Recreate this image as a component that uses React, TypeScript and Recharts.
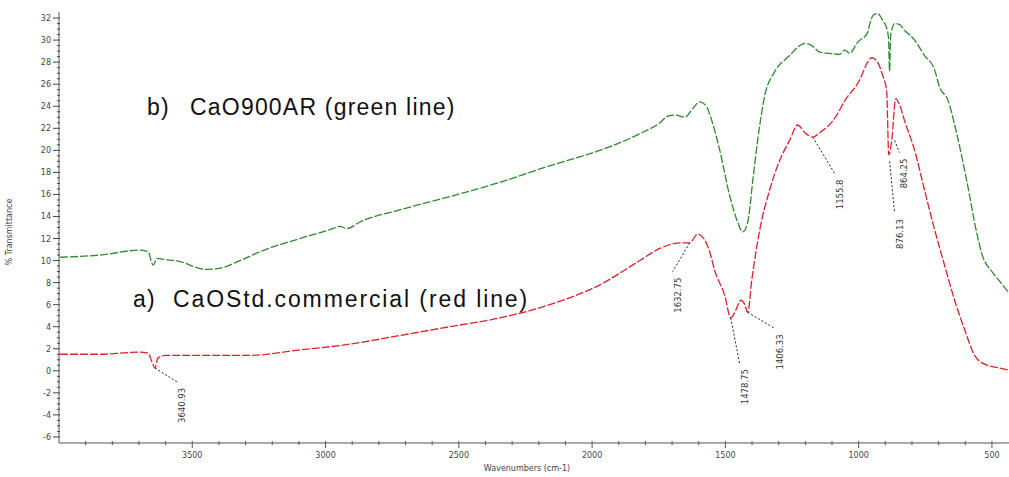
import React from "react";
import {
  LineChart,
  Line,
  XAxis,
  YAxis,
  ReferenceLine,
  ReferenceDot,
} from "recharts";

// wavenumber (cm-1) / % transmittance
const greenWn = [3996, 3846, 3696, 3666, 3647, 3632, 3602, 3546, 3452, 3396, 3321, 3246, 3096, 2984, 2946, 2920, 2871, 2721, 2534, 2346, 2159, 1971, 1821, 1746, 1716, 1690, 1652, 1622, 1596, 1574, 1551, 1521, 1484, 1454, 1435, 1416, 1397, 1379, 1352, 1316, 1259, 1221, 1202, 1176, 1146, 1109, 1071, 1052, 1034, 1004, 966, 959, 944, 929, 910, 895, 888, 884, 880, 865, 846, 828, 790, 753, 715, 696, 666, 632, 595, 557, 539, 497, 467, 437];
const greenT = [10.3, 10.5, 10.95, 10.8, 9.6, 10.2, 10.1, 9.9, 9.2, 9.3, 10.0, 10.8, 12.0, 12.8, 13.1, 12.9, 13.5, 14.6, 15.8, 17.1, 18.6, 20.0, 21.5, 22.5, 23.1, 23.2, 23.0, 23.8, 24.4, 24.1, 22.7, 20.0, 15.9, 13.5, 12.6, 13.5, 17.3, 20.9, 25.0, 27.1, 28.6, 29.5, 29.7, 29.5, 28.9, 28.8, 28.7, 29.1, 28.8, 29.8, 30.7, 31.4, 32.3, 32.4, 31.8, 31.1, 30.2, 27.2, 30.4, 31.5, 31.4, 30.9, 30.0, 28.6, 27.3, 25.7, 24.6, 21.5, 17.3, 12.5, 10.7, 8.9, 8.0, 7.1];

const redWn = [3996, 3846, 3696, 3666, 3651, 3640, 3629, 3602, 3471, 3284, 3096, 2928, 2721, 2534, 2346, 2159, 1971, 1821, 1746, 1671, 1634, 1604, 1581, 1559, 1540, 1502, 1480, 1461, 1442, 1427, 1416, 1401, 1371, 1334, 1296, 1259, 1229, 1202, 1172, 1146, 1090, 1052, 996, 966, 951, 929, 910, 895, 887, 876, 861, 846, 828, 790, 753, 715, 678, 640, 602, 565, 527, 471, 437];
const redT = [1.5, 1.5, 1.7, 1.6, 0.8, 0.25, 1.15, 1.4, 1.4, 1.4, 1.9, 2.35, 3.2, 4.0, 4.8, 6.0, 7.8, 10.0, 11.1, 11.6, 11.6, 12.4, 12.0, 10.8, 9.1, 6.8, 4.8, 5.5, 6.4, 6.0, 5.3, 8.2, 12.8, 16.4, 19.1, 20.9, 22.3, 21.6, 21.2, 21.6, 22.9, 24.5, 26.4, 28.0, 28.4, 28.0, 26.8, 25.4, 19.6, 20.9, 24.7, 24.1, 22.7, 20.0, 16.4, 12.8, 9.6, 6.4, 3.7, 1.4, 0.6, 0.25, 0.05];

// peak labels: text, peak point, end of leader line
const peakLabels = ["3640.93", "1632.75", "1478.75", "1406.33", "1155.8", "864.25", "876.13"];
const peakWn = [3640, 1634, 1480, 1416, 1172, 865, 884];
const peakT = [0.25, 11.6, 4.8, 5.3, 21.2, 20.9, 19.0];
const leaderWn = [3558, 1698, 1447, 1315, 1090, 847, 865];
const leaderT = [-1.0, 9.0, 0.7, 3.85, 17.9, 19.8, 14.3];

const xTicks = Array.from({ length: 35 }, (_, i) => 500 + i * 100);
const yTicks = Array.from({ length: 77 }, (_, i) => -6 + i * 0.5);

const greenData = greenWn.map((wn, i) => ({ wn, t: greenT[i] }));
const redData = redWn.map((wn, i) => ({ wn, t: redT[i] }));

const tickFont = "DejaVu Sans";

const XTick = (props: any) => {
  const { x, y, payload } = props;
  const v = payload.value;
  const major = v % 500 === 0;
  return (
    <g>
      <line x1={x} x2={x} y1={y - 2} y2={y + (major ? 5 : 2)} stroke="#555" strokeWidth={1} />
      {major && (
        <text x={x} y={y + 15} textAnchor="middle" fontSize={8} fontFamily={tickFont} fill="#444">
          {v}
        </text>
      )}
    </g>
  );
};

const YTick = (props: any) => {
  const { x, y, payload } = props;
  const v = payload.value;
  const major = Math.abs(v % 2) < 0.001;
  return (
    <g>
      <line x1={major ? x - 6 : x - 2} x2={x + 1} y1={y} y2={y} stroke="#444" strokeWidth={1} />
      {major && (
        <text x={x - 8} y={y + 3} textAnchor="end" fontSize={8} fontFamily={tickFont} fill="#444">
          {v}
        </text>
      )}
    </g>
  );
};

const PeakText = (text: string) => (props: any) => {
  const { cx, cy } = props;
  const px = cx + 8;
  const py = cy + 6;
  return (
    <text
      x={px}
      y={py}
      textAnchor="end"
      fontSize={8.5}
      fontFamily={tickFont}
      fill="#333"
      transform={`rotate(-90, ${px}, ${py})`}
    >
      {text}
    </text>
  );
};

const noteStyle: React.CSSProperties = {
  position: "absolute",
  fontFamily: "Liberation Sans, Arial, sans-serif",
  fontSize: 23,
  lineHeight: "23px",
  letterSpacing: 1.2,
  color: "#111",
  whiteSpace: "nowrap",
};

export default function App() {
  return (
    <div style={{ position: "absolute", left: 0, top: 0, width: 1009, height: 477, background: "#fff" }}>
      <LineChart width={1009} height={477} margin={{ top: 12, right: 0, bottom: 0, left: 0 }}>
        <XAxis
          type="number"
          dataKey="wn"
          domain={[436, 4000]}
          reversed
          allowDataOverflow
          ticks={xTicks}
          interval={0}
          height={34}
          tickSize={0}
          tickMargin={0}
          tickLine={false}
          tick={<XTick />}
          axisLine={{ stroke: "#aaa", strokeWidth: 2 }}
          label={{
            value: "Wavenumbers (cm-1)",
            position: "insideBottom",
            offset: 6,
            dx: -7,
            fontSize: 8,
            fontFamily: tickFont,
            fill: "#444",
          }}
        />
        <YAxis
          type="number"
          domain={[-6.55, 32.55]}
          allowDataOverflow
          ticks={yTicks}
          interval={0}
          width={59}
          tickSize={0}
          tickMargin={0}
          tickLine={false}
          tick={<YTick />}
          axisLine={{ stroke: "#aaa", strokeWidth: 2 }}
          label={{
            value: "% Transmittance",
            angle: -90,
            position: "insideLeft",
            offset: 9,
            dy: 38,
            fontSize: 8,
            fontFamily: tickFont,
            fill: "#444",
          }}
        />
        <Line
          data={greenData}
          dataKey="t"
          type="monotone"
          stroke="#2f8a2f"
          strokeWidth={1.3}
          strokeDasharray="8 2"
          dot={false}
          isAnimationActive={false}
        />
        <Line
          data={redData}
          dataKey="t"
          type="monotone"
          stroke="#e0202e"
          strokeWidth={1.3}
          strokeDasharray="8 2"
          dot={false}
          isAnimationActive={false}
        />
        {peakLabels.map((lab, i) => (
          <ReferenceLine
            key={"l" + lab}
            segment={[
              { x: peakWn[i], y: peakT[i] },
              { x: leaderWn[i], y: leaderT[i] },
            ]}
            stroke="#222"
            strokeWidth={1}
            strokeDasharray="2 2"
            ifOverflow="visible"
          />
        ))}
        {peakLabels.map((lab, i) => (
          <ReferenceDot
            key={"t" + lab}
            x={leaderWn[i]}
            y={leaderT[i]}
            r={0}
            ifOverflow="visible"
            shape={PeakText(lab)}
          />
        ))}
      </LineChart>
      <div style={{ ...noteStyle, left: 147, top: 96 }}>b)</div>
      <div style={{ ...noteStyle, left: 190, top: 96 }}>CaO900AR (green line)</div>
      <div style={{ ...noteStyle, left: 133, top: 288 }}>a)</div>
      <div style={{ ...noteStyle, left: 173, top: 288, letterSpacing: 1.9 }}>CaOStd.commercial (red line)</div>
    </div>
  );
}
